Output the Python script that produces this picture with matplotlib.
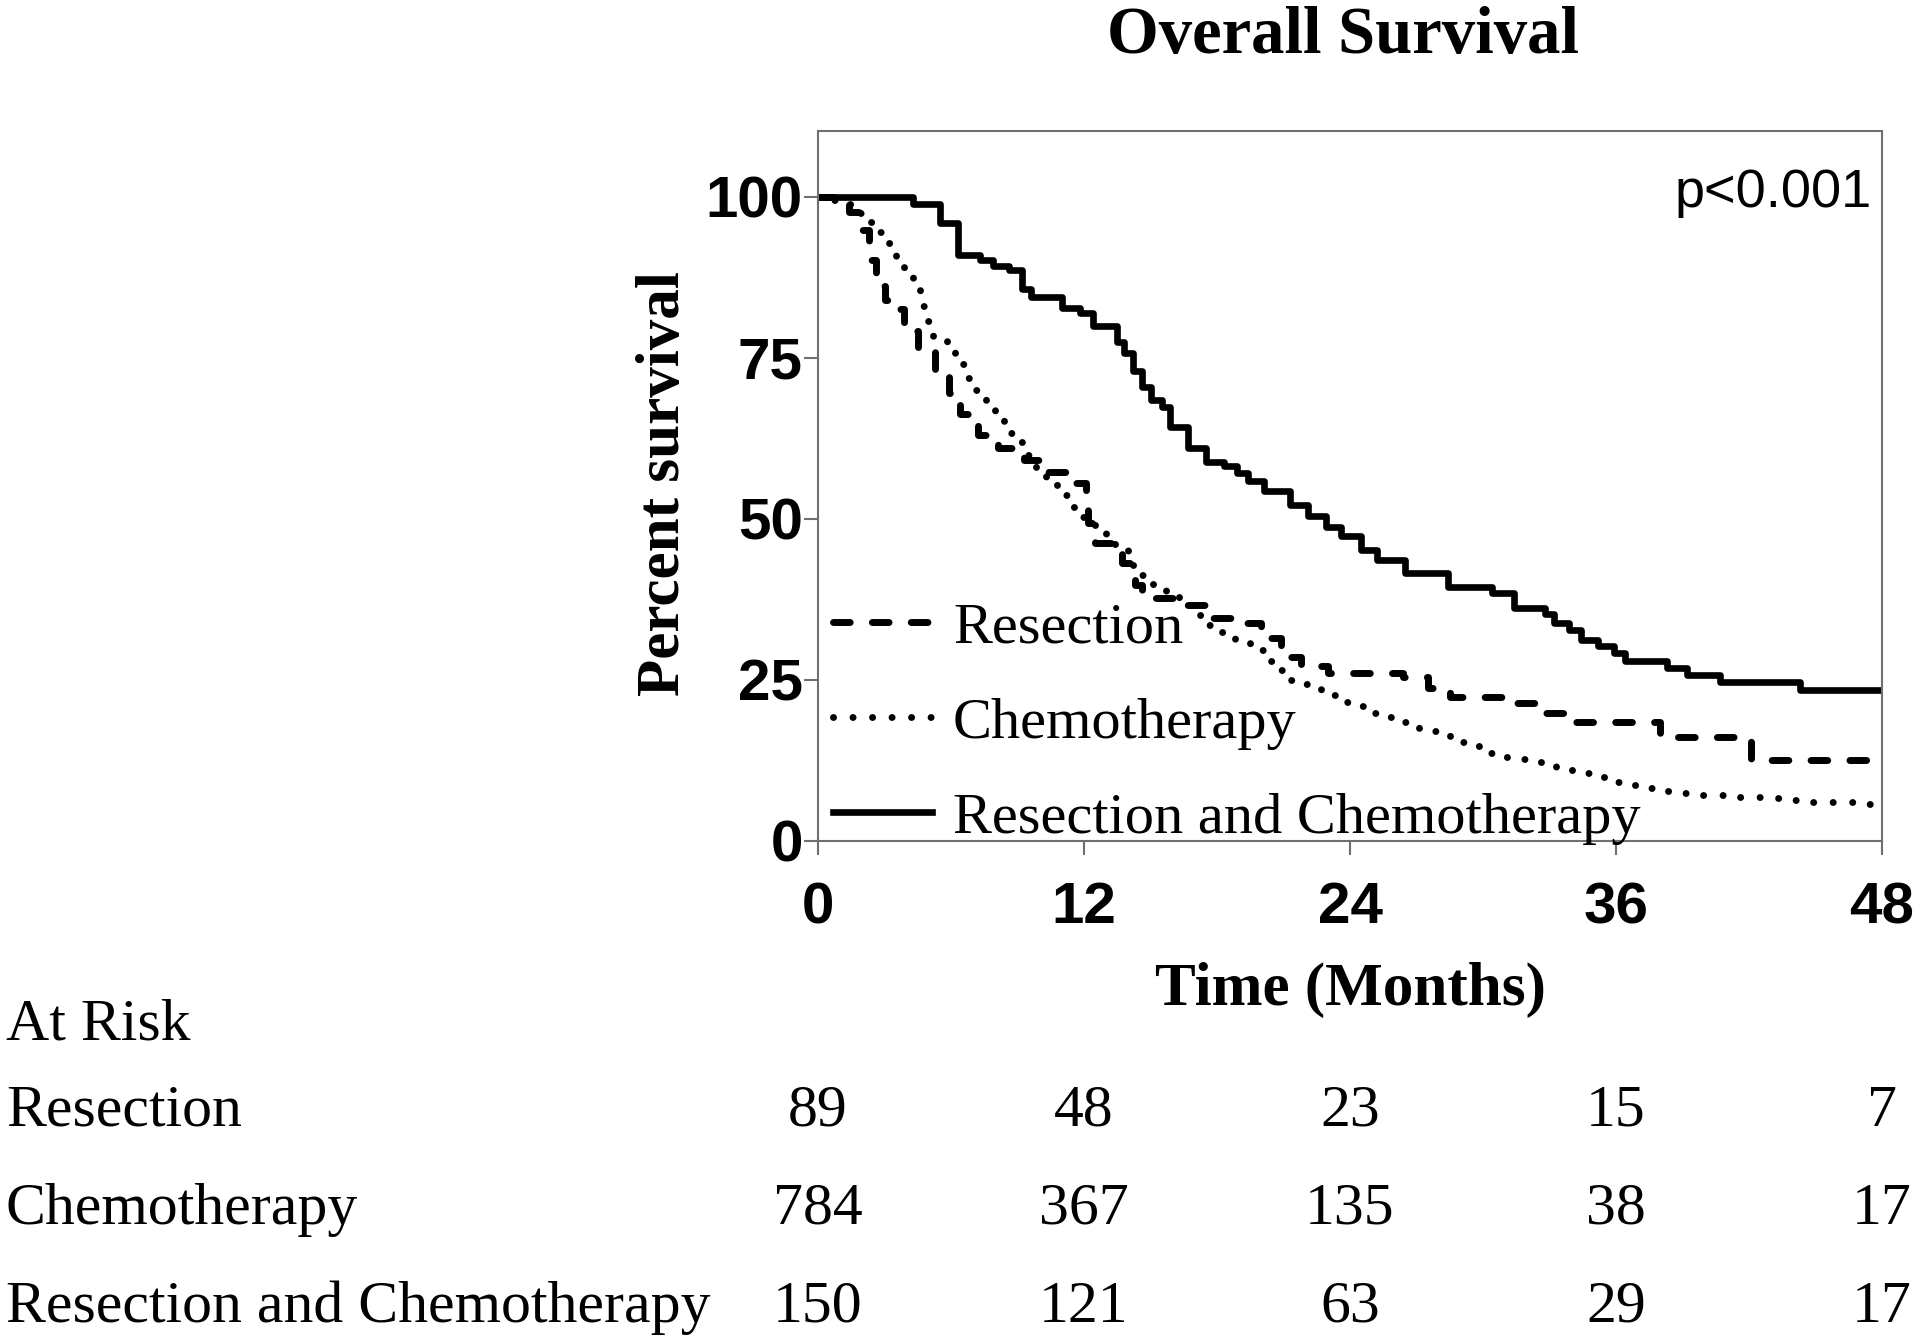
import matplotlib
matplotlib.use("Agg")
import matplotlib.pyplot as plt
from matplotlib.transforms import blended_transform_factory

# Kaplan-Meier curves (months, percent survival)
t_res = [0, 0.7, 1.4, 2.0, 2.3, 2.6, 3.0, 3.3, 3.9, 4.5, 5.3, 5.9, 6.4, 7.2, 8.1,
         9.3, 10.2, 11.2, 12.1, 12.2, 12.5, 13.7, 14.3, 14.6, 16.5, 17.7, 19.3,
         20.0, 20.9, 21.8, 23.0, 26.4, 27.5, 28.5, 31.3, 32.5, 33.7, 38.0, 42.1, 47.5]
s_res = [100, 99.0, 97.7, 94.9, 90.2, 86.1, 84.0, 82.5, 79.1, 76.3, 73.2, 69.5, 66.2,
         63.0, 61.0, 59.1, 57.2, 55.5, 53.0, 49.3, 46.3, 43.2, 39.8, 37.7, 36.7, 34.6,
         33.8, 31.5, 28.6, 27.1, 26.0, 25.5, 23.7, 22.4, 21.4, 19.8, 18.5, 16.1, 12.5, 12.5]

t_chemo = [0, 0.5, 1.0, 1.5, 2.0, 2.6, 3.1, 3.5, 3.9, 4.3, 4.6, 4.9, 5.2, 5.8, 6.2, 6.6,
           7.15, 7.6, 8.0, 8.4, 9.0, 9.4, 9.85, 10.3, 10.8, 11.3, 11.8, 12.5, 13.0, 13.4,
           14.0, 14.5, 15.1, 15.7, 16.3, 16.9, 17.5, 18.2, 18.8, 19.5, 20.1, 20.7, 21.3,
           22.0, 22.7, 23.4, 24.1, 24.95, 25.7, 26.4, 27.1, 27.9, 28.5, 29.3, 30.0, 30.9,
           31.8, 32.5, 33.3, 34.0, 34.9, 35.6, 36.4, 37.1, 38.0, 38.9, 39.8, 41.6, 42.5,
           43.4, 44.3, 47.0, 47.8, 48.0]
s_chemo = [100, 99.5, 98.8, 97.5, 96.0, 94.6, 92.8, 90.4, 87.7, 85.6, 83.1, 80.7, 78.3,
           76.4, 74.1, 71.8, 70.0, 67.7, 65.6, 63.4, 61.9, 59.9, 57.7, 55.6, 53.7, 51.9,
           50.3, 48.8, 46.2, 45.2, 42.9, 41.3, 39.5, 38.0, 36.7, 35.1, 33.6, 32.5, 31.0,
           29.7, 27.9, 26.6, 25.0, 24.3, 22.7, 21.6, 20.9, 19.8, 19.3, 18.5, 17.0, 16.5,
           15.4, 14.7, 13.6, 13.1, 12.8, 12.3, 11.3, 10.5, 10.0, 9.2, 8.7, 8.2, 7.7, 7.4,
           7.2, 6.9, 6.6, 6.4, 6.1, 5.8, 5.6, 5.6]

t_both = [0, 4.3, 5.5, 6.3, 7.3, 7.9, 8.6, 9.2, 9.6, 11.0, 11.8, 12.4, 13.5, 13.8, 14.2,
          14.6, 15.0, 15.5, 15.9, 16.7, 17.5, 18.3, 18.9, 19.4, 20.1, 21.3, 22.1, 22.9,
          23.6, 24.5, 25.2, 26.5, 28.4, 30.4, 31.4, 32.8, 33.2, 33.9, 34.4, 35.2, 35.9,
          36.4, 38.3, 39.2, 40.7, 44.3, 48.0]
s_both = [100, 98.8, 95.9, 91.0, 90.2, 89.2, 88.7, 85.6, 84.5, 82.7, 81.9, 79.9, 77.5,
          75.7, 73.0, 70.5, 68.5, 67.4, 64.3, 61.0, 58.9, 58.2, 57.1, 55.8, 54.3, 52.2,
          50.5, 48.8, 47.3, 45.2, 43.6, 41.6, 39.5, 38.5, 36.2, 35.3, 33.8, 32.7, 31.2,
          30.2, 29.2, 27.9, 26.8, 25.8, 24.7, 23.5, 23.5]

groups = ["Resection", "Chemotherapy", "Resection and Chemotherapy"]
risk_times = [0, 12, 24, 36, 48]
at_risk = {
    "Resection": [89, 48, 23, 15, 7],
    "Chemotherapy": [784, 367, 135, 38, 17],
    "Resection and Chemotherapy": [150, 121, 63, 29, 17],
}

SERIF = ["Liberation Serif", "DejaVu Serif"]
SANS = ["Liberation Sans", "DejaVu Sans"]

fig = plt.figure(figsize=(19.2, 13.44), dpi=100)
ax = fig.add_axes([818 / 1920, 1 - 841 / 1344, 1064 / 1920, 710 / 1344])

ax.step(t_res, s_res, where="post", color="black", lw=5.0,
        dashes=(2.4, 3.2), dash_capstyle="round", label=groups[0])
ax.step(t_chemo, s_chemo, where="post", color="black", lw=5.0,
        dashes=(0.01, 2.8), dash_capstyle="round", label=groups[1])
ax.step(t_both, s_both, where="post", color="black", lw=4.8, label=groups[2])

ax.set_xlim(0, 48)
ax.set_ylim(0, 110.2)
ax.set_xticks([0, 12, 24, 36, 48])
ax.set_yticks([0, 25, 50, 75, 100])
for sp in ax.spines.values():
    sp.set_color("#707070")
    sp.set_linewidth(1.5)
ax.tick_params(direction="out", length=10, width=1.5, color="#707070", pad=1)
ax.tick_params(axis="x", pad=19)
for lab in ax.get_xticklabels() + ax.get_yticklabels():
    lab.set_family(SANS)
    lab.set_fontweight("bold")
    lab.set_fontsize(42)

ax.set_ylabel("Percent survival", family=SERIF, fontweight="bold", fontsize=44,
              va="center", ha="center")
ax.yaxis.set_label_coords(-0.145, 0.503)
ax.set_xlabel("Time (Months)", family=SERIF, fontweight="bold", fontsize=44,
              va="center", ha="center")
ax.xaxis.set_label_coords(0.5, -0.210)

ax.text(0.99, 0.9127, "p<0.001", transform=ax.transAxes, ha="right", va="center",
        family=SANS, fontsize=39)

leg = ax.legend(loc="lower left", bbox_to_anchor=(0.014, -0.005), frameon=False,
                prop={"family": SERIF, "size": 42}, handlelength=1.7,
                handletextpad=0.36, labelspacing=0.72, borderpad=0, borderaxespad=0)

fig.text(1343 / 1920, 1 - 36 / 1344, "Overall Survival", ha="center", va="center",
         family=SERIF, fontweight="bold", fontsize=48)

# number at risk table
fig.text(6 / 1920, 1 - 1026 / 1344, "At Risk", ha="left", va="center",
         family=SERIF, fontsize=43)
tr = blended_transform_factory(ax.transData, fig.transFigure)
row_y = [1112, 1210, 1308]
for g, yy in zip(groups, row_y):
    fig.text(6 / 1920, 1 - yy / 1344, g, ha="left", va="center",
             family=SERIF, fontsize=43)
    for tt, n in zip(risk_times, at_risk[g]):
        ax.text(tt, 1 - yy / 1344, str(n), transform=tr, ha="center", va="center",
                family=SERIF, fontsize=43, clip_on=False)

fig.savefig("out.png", dpi=100)
